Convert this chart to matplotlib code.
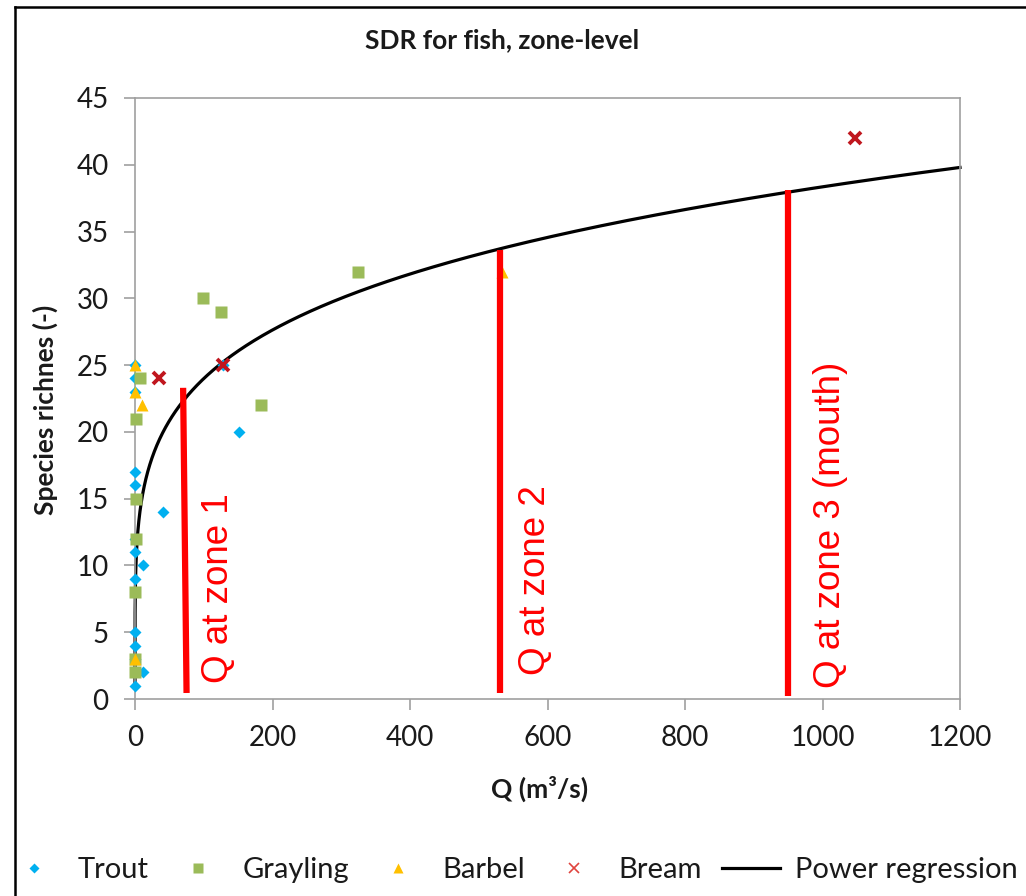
import numpy as np
import matplotlib
matplotlib.use("Agg")
import matplotlib.pyplot as plt
from matplotlib.lines import Line2D

plt.rcParams['font.family'] = ['Lato', 'DejaVu Sans']

# data
trout_q = [0, 0, 0, 0, 0, 0, 0, 0, 0, 0, 0, 0, 11, 11, 41, 151, 128]
trout_s = [25, 24, 23, 17, 16, 12, 11, 9, 5, 4, 3, 1, 10, 2, 14, 20, 25]
grayling_q = [7, 1, 1, 1, 0, 0, 0, 183, 99, 125, 325]
grayling_s = [24, 21, 15, 12, 8, 3, 2, 22, 30, 29, 32]
barbel_q = [0, 0, 10, 0, 534]
barbel_s = [25, 23, 22, 3, 32]
bream_q = [35, 128, 1047]
bream_s = [24, 25, 42]

# power regression S = a * Q^b
reg_a = 9.39
reg_b = 0.2037

# hand drawn discharge markers
zone_q_top = [70, 531, 950]
zone_q_bot = [75, 531, 950]
zone_s_top = [23.3, 33.6, 38.1]
zone_s_bot = [0.45, 0.45, 0.2]
zone_labels = ['Q at zone 1', 'Q at zone 2', 'Q at zone 3 (mouth)']
zone_text_q = [122, 583, 1011]
zone_text_s = [1.2, 1.8, 0.8]

xticks = [0, 200, 400, 600, 800, 1000, 1200]
yticks = [0, 5, 10, 15, 20, 25, 30, 35, 40, 45]

c_trout = '#00B0F0'
c_gray = '#9BBB59'
c_barbel = '#FFC000'
c_bream = '#C0161E'
grey = '#A0A0A0'
txt = '#1A1A1A'

fig = plt.figure(figsize=(10.26, 8.96), dpi=100)
ax = fig.add_axes([135/1026, 1-699/896, 825/1026, 601/896])

qq = np.geomspace(1e-5, 1200, 3000)
ax.plot(qq, reg_a*qq**reg_b, color='black', lw=2.3, zorder=2, clip_on=False)

ax.plot(trout_q, trout_s, 'D', ms=6.3, color=c_trout, mec='none', zorder=3, clip_on=False)
ax.plot(grayling_q, grayling_s, 's', ms=8, color=c_gray, mec='none', zorder=4, clip_on=False)
ax.plot(barbel_q, barbel_s, '^', ms=9, color=c_barbel, mec='none', zorder=5, clip_on=False)
ax.plot(bream_q, bream_s, 'x', ms=8.5, mew=2.8, color=c_bream, zorder=6, clip_on=False)

for i in range(len(zone_labels)):
    ax.plot([zone_q_top[i], zone_q_bot[i]], [zone_s_top[i], zone_s_bot[i]],
            color='#FF0000', lw=4.5, solid_capstyle='butt', zorder=7, clip_on=False)
    ax.text(zone_text_q[i], zone_text_s[i], zone_labels[i], rotation=90,
            ha='center', va='bottom', color='#FF0000', fontsize=26.5,
            family='Liberation Sans', zorder=8)

ax.set_xlim(0, 1200)
ax.set_ylim(0, 45)
ax.set_xticks(xticks)
ax.set_yticks(yticks)
for sp in ax.spines.values():
    sp.set_color(grey)
    sp.set_linewidth(1.2)
ax.tick_params(direction='out', length=8, width=1.2, color=grey,
               labelsize=20, labelcolor=txt, pad=11)

ax.set_xlabel('Q (m\u00b3/s)', fontsize=19, fontweight='bold', color=txt)
ax.xaxis.set_label_coords((540-135)/825, -(776-699)/601)
ax.set_ylabel('Species richnes (-)', fontsize=19, fontweight='bold', color=txt)
ax.yaxis.set_label_coords(-(135-58)/825, (699-410)/601)

fig.text(502/1026, 1-40/896, 'SDR for fish, zone-level', fontsize=19,
         fontweight='bold', color=txt, ha='center', va='center')

handles = [
    Line2D([], [], ls='none', marker='D', ms=5, color=c_trout, mec='none'),
    Line2D([], [], ls='none', marker='s', ms=6.5, color=c_gray, mec='none'),
    Line2D([], [], ls='none', marker='^', ms=6.5, color=c_barbel, mec='none'),
    Line2D([], [], ls='none', marker='x', ms=7, mew=1.2, color='#E0443E'),
    Line2D([], [], color='black', lw=2.3),
]
names = ['Trout', 'Grayling', 'Barbel', 'Bream', 'Power regression']
fig.legend(handles, names, loc='center left', bbox_to_anchor=(5/1026, 1-870/896),
           ncol=5, frameon=False, fontsize=21, handlelength=2.0,
           handletextpad=0.5, columnspacing=0.7, labelcolor=txt,
           borderaxespad=0, borderpad=0)

# chart area border (left and top edges visible in the crop)
fig.add_artist(Line2D([15/1026, 15/1026], [0, 1-7/896], color='black', lw=1.8,
                      transform=fig.transFigure))
fig.add_artist(Line2D([15/1026, 1], [1-7/896, 1-7/896], color='black', lw=1.8,
                      transform=fig.transFigure))

fig.savefig('out.png', dpi=100)
